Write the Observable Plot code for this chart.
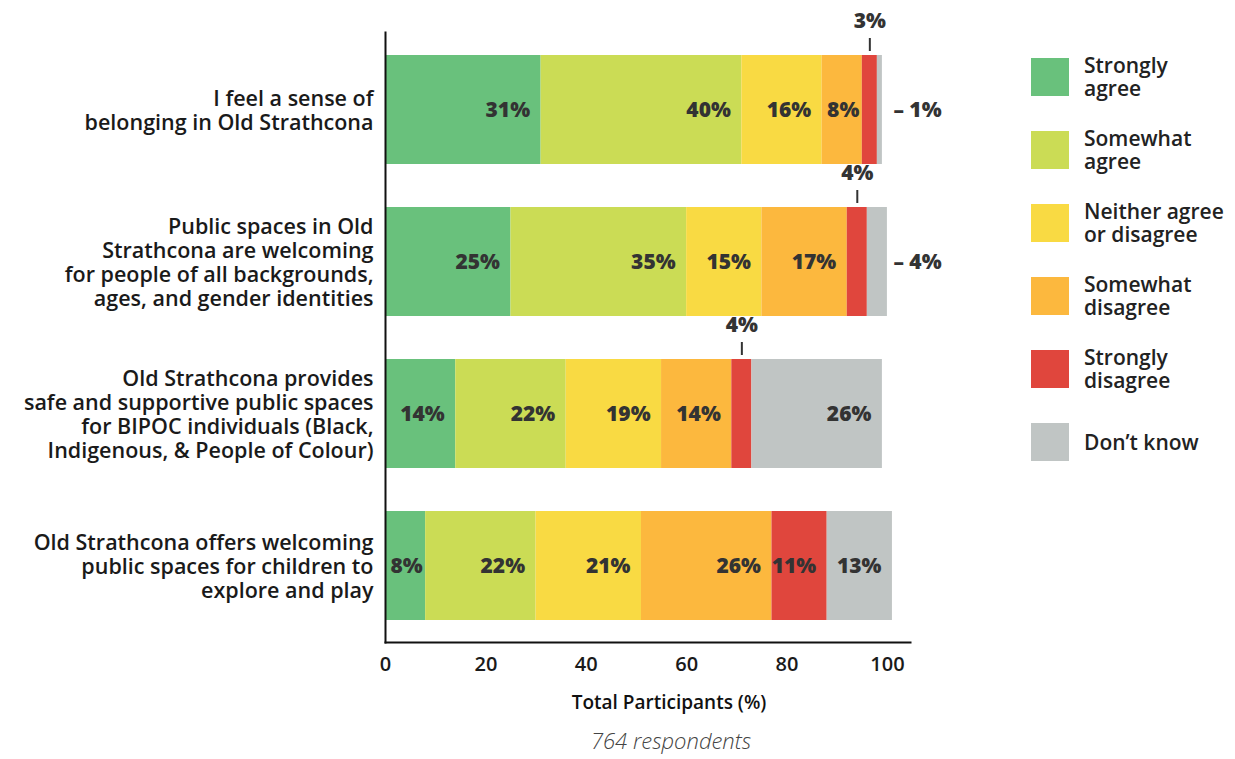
<!DOCTYPE html>
<html>
<head>
<meta charset="utf-8">
<script src="https://cdn.jsdelivr.net/npm/d3@7"></script>
<script src="https://cdn.jsdelivr.net/npm/@observablehq/plot@0.6"></script>
<style>
  html, body { margin: 0; padding: 0; background: #fff; }
  #wrap { position: relative; width: 1235px; height: 759px; font-family: "Open Sans", Lato, sans-serif; }
  #legend { position: absolute; left: 1031px; top: 58px; }
  .item { display: flex; align-items: center; height: 38px; margin-bottom: 35px; }
  .sw { width: 38px; height: 38px; flex: none; }
  .lab { margin-left: 15px; font-size: 21px; font-weight: 600; line-height: 23px; color: #222; white-space: pre; }
</style>
</head>
<body>
<div id="wrap"><div id="chart"></div><div id="legend"></div></div>
<script>
const statements = [
  "I feel a sense of\nbelonging in Old Strathcona",
  "Public spaces in Old\nStrathcona are welcoming\nfor people of all backgrounds,\nages, and gender identities",
  "Old Strathcona provides\nsafe and supportive public spaces\nfor BIPOC individuals (Black,\nIndigenous, & People of Colour)",
  "Old Strathcona offers welcoming\npublic spaces for children to\nexplore and play"
];
const categories = ["Strongly agree", "Somewhat agree", "Neither agree or disagree", "Somewhat disagree", "Strongly disagree", "Don't know"];
const legendLabels = ["Strongly\nagree", "Somewhat\nagree", "Neither agree\nor disagree", "Somewhat\ndisagree", "Strongly\ndisagree", "Don’t know"];
const colors = ["#69c17c", "#cbdc55", "#f9da43", "#fcb83e", "#e0463d", "#c0c5c4"];

const stronglyAgree    = [31, 25, 14, 8];
const somewhatAgree    = [40, 35, 22, 22];
const neither          = [16, 15, 19, 21];
const somewhatDisagree = [8, 17, 14, 26];
const stronglyDisagree = [3, 4, 4, 11];
const dontKnow         = [1, 4, 26, 13];
const xTicks = [0, 20, 40, 60, 80, 100];

const series = [stronglyAgree, somewhatAgree, neither, somewhatDisagree, stronglyDisagree, dontKnow];

const data = [];
statements.forEach((s, i) => {
  let acc = 0;
  categories.forEach((c, j) => {
    const v = series[j][i];
    data.push({statement: s, category: c, value: v, start: acc, end: acc + v});
    acc += v;
  });
});

const insideBig = data.filter(d => d.value >= 10);
const insideSmall = data.filter(d => d.value >= 8 && d.value < 10);
const above = data.filter(d => d.value < 8 && d.category === "Strongly disagree");
const right = data.filter(d => d.value < 8 && d.category === "Don't know");

const font = "'Open Sans', Lato, sans-serif";
const pct = {fontSize: 21, fontWeight: 800, fill: "#333"};

const chart = Plot.plot({
  width: 1235,
  height: 759,
  marginLeft: 385,
  marginRight: 325,
  marginTop: 32,
  marginBottom: 117,
  style: {fontFamily: font, background: "transparent"},
  x: {domain: [0, 104.6], ticks: xTicks},
  y: {domain: statements, paddingInner: 0.284, paddingOuter: 0.1445},
  color: {domain: categories, range: colors},
  marks: [
    Plot.barX(data, {x1: "start", x2: "end", y: "statement", fill: "category"}),
    Plot.text(insideBig, {x: "end", y: "statement", text: d => d.value + "%", textAnchor: "end", dx: -11, ...pct}),
    Plot.text(insideSmall, {x: "end", y: "statement", text: d => d.value + "%", textAnchor: "end", dx: -3, ...pct}),
    Plot.text(above, {x: d => (d.start + d.end) / 2, y: "statement", text: d => d.value + "%", dy: -89, ...pct}),
    Plot.tickX(above, {x: d => (d.start + d.end) / 2, y: "statement", insetTop: -17, insetBottom: 113, stroke: "#333", strokeWidth: 2}),
    Plot.text(right, {x: 100, y: "statement", text: d => "– " + d.value + "%", textAnchor: "start", dx: 6, ...pct}),
    Plot.frame({anchor: "left", stroke: "#111", strokeWidth: 2}),
    Plot.frame({anchor: "bottom", stroke: "#111", strokeWidth: 2}),
    Plot.axisX({ticks: xTicks, tickSize: 0, tickPadding: 14, fontSize: 20, fontWeight: 600, fill: "#1a1a1a", label: null}),
    Plot.axisY({tickSize: 0, tickPadding: 12, fontSize: 21.5, fontWeight: 600, fill: "#1a1a1a", lineHeight: 1.12, label: null}),
    Plot.text(["Total Participants (%)"], {frameAnchor: "bottom", dx: 21, dy: 66, fontSize: 19, fontWeight: 600, fill: "#111"}),
    Plot.text(["764 respondents"], {frameAnchor: "bottom", dx: 23, dy: 106, fontSize: 22, fontWeight: 300, fontStyle: "italic", fill: "#444"})
  ]
});
document.getElementById("chart").appendChild(chart);

const legend = document.getElementById("legend");
categories.forEach((c, j) => {
  const item = document.createElement("div");
  item.className = "item";
  const sw = document.createElement("div");
  sw.className = "sw";
  sw.style.background = colors[j];
  const lab = document.createElement("div");
  lab.className = "lab";
  lab.textContent = legendLabels[j];
  item.appendChild(sw);
  item.appendChild(lab);
  legend.appendChild(item);
});
</script>
</body>
</html>
